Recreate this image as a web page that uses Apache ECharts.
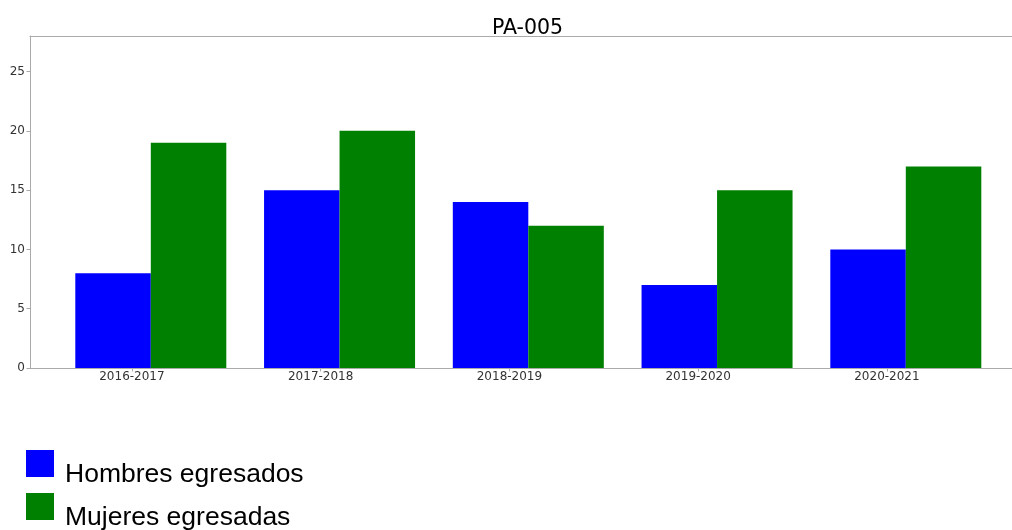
<!DOCTYPE html>
<html>
<head>
<meta charset="utf-8">
<script src="https://cdn.jsdelivr.net/npm/echarts/dist/echarts.min.js"></script>
<style>
html,body{margin:0;padding:0;background:#fff;}
#chart{width:1012px;height:530px;}
</style>
</head>
<body>
<div id="chart"></div>
<script>
const titleText = 'PA-005';
const categories = ['2016-2017', '2017-2018', '2018-2019', '2019-2020', '2020-2021'];
const hombres = [8, 15, 14, 7, 10];
const mujeres = [19, 20, 12, 15, 17];
const seriesNames = ['Hombres egresados', 'Mujeres egresadas'];
const yMax = 28;
const yInterval = 5;

const tickPositions = categories.map((c, i) => i - 0.1);
const axisGray = '#aaaaaa';
const labelColor = '#333333';

function legendFor(name, top) {
  return {
    orient: 'vertical',
    left: 26,
    top: top,
    padding: 0,
    itemWidth: 28,
    itemHeight: 27,
    icon: 'rect',
    data: [name],
    formatter: n => '{t|' + n + '}',
    textStyle: {
      fontFamily: 'Liberation Sans',
      fontSize: 26.5,
      color: '#000',
      rich: {
        t: {
          fontFamily: 'Liberation Sans',
          fontSize: 26.5,
          color: '#000',
          padding: [22, 0, 0, 6]
        }
      }
    }
  };
}

const chart = echarts.init(document.getElementById('chart'));
chart.setOption({
  animation: false,
  backgroundColor: '#ffffff',
  title: {
    text: titleText,
    left: 487,
    top: 13,
    textStyle: { fontFamily: 'DejaVu Sans', fontSize: 20.5, fontWeight: 'normal', color: '#000' }
  },
  grid: {
    left: 30,
    top: 36,
    right: 0,
    height: 332,
    show: false
  },
  legend: [legendFor(seriesNames[0], 450), legendFor(seriesNames[1], 493)],
  xAxis: [
    {
      type: 'value',
      min: -0.64,
      max: 4.5626,
      splitLine: { show: false },
      axisLine: { onZero: false, lineStyle: { color: axisGray, width: 1 } },
      axisTick: { show: true, length: 3.5, lineStyle: { color: axisGray }, customValues: tickPositions },
      axisLabel: {
        customValues: tickPositions,
        formatter: v => categories[Math.round(v + 0.1)] || '',
        margin: 3,
        fontFamily: 'DejaVu Sans',
        fontSize: 12,
        color: labelColor
      }
    },
    {
      type: 'value',
      position: 'top',
      min: -0.64,
      max: 4.5626,
      splitLine: { show: false },
      axisLine: { show: true, onZero: false, lineStyle: { color: axisGray, width: 1 } },
      axisTick: { show: false },
      axisLabel: { show: false }
    }
  ],
  yAxis: {
    type: 'value',
    min: 0,
    max: yMax,
    interval: yInterval,
    splitLine: { show: false },
    axisLine: { show: true, onZero: false, lineStyle: { color: axisGray, width: 1 } },
    axisTick: { show: true, length: 3.5, lineStyle: { color: axisGray } },
    axisLabel: {
      margin: 5,
      fontFamily: 'DejaVu Sans',
      fontSize: 12,
      color: labelColor,
      showMaxLabel: false
    }
  },
  series: [
    {
      name: seriesNames[0],
      type: 'bar',
      barWidth: 75.5,
      barGap: '0%',
      itemStyle: { color: '#0000ff' },
      data: hombres.map((v, i) => [i, v])
    },
    {
      name: seriesNames[1],
      type: 'bar',
      barWidth: 75.5,
      barGap: '0%',
      itemStyle: { color: '#008000' },
      data: mujeres.map((v, i) => [i, v])
    }
  ]
});
</script>
</body>
</html>
